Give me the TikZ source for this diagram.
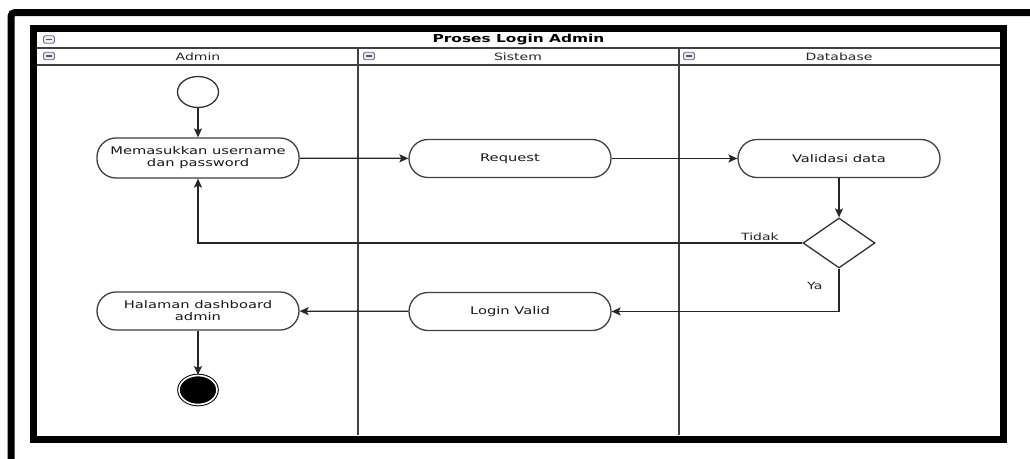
\documentclass[tikz,border=0pt]{standalone}
\usepackage{fontspec}
\newfontfamily\umlfont[FakeStretch=1.4]{DejaVu Sans}
\usetikzlibrary{shapes.geometric, arrows.meta, positioning, calc}

\begin{document}
\begin{tikzpicture}[
  x=1pt, y=-1pt,
  >=Stealth,
  % Thick black frames
  frame/.style={line width=7pt, draw=black},
  % Header separators and lane dividers
  sep/.style={line width=1.2pt, draw=black!75},
  lanediv/.style={line width=2pt, draw=black!75},
  % Flow Edge
  arr/.style={-{Stealth[length=9pt, width=8pt, inset=2pt]}, line width=1.3pt, draw=black!85},
  % Guard Label
  lbl/.style={font=\umlfont\fontsize{10}{12}\selectfont, text=black!85, inner sep=1pt},
  % Header texts
  title/.style={font=\umlfont\bfseries\fontsize{11}{13}\selectfont, inner sep=1pt},
  lanehead/.style={font=\umlfont\fontsize{10}{12}\selectfont, text=black!85, inner sep=1pt},
  % Collapse icon in the header rows
  minus/.style={rectangle, rounded corners=1.5pt, draw=gray!80!blue, line width=0.8pt, fill=gray!15,
    minimum width=11pt, minimum height=7.5pt, inner sep=0pt,
    path picture={\draw[gray!70!black, line width=1.5pt]
      ([xshift=-3pt]path picture bounding box.center) --
      ([xshift=3pt]path picture bounding box.center);}},
  % Activity Nodes
  act/.style={rectangle, rounded corners=19pt, draw=black!75, line width=1.3pt, fill=white,
    minimum width=202pt, minimum height=38pt, align=center, inner sep=2pt,
    font=\umlfont\fontsize{10.5}{12}\selectfont, text=black!90},
  initnode/.style={ellipse, draw=black!80, line width=1.3pt, fill=white,
    minimum width=41pt, minimum height=31pt, inner sep=0pt},
  finalnode/.style={ellipse, draw=black, fill=black, line width=1pt, double=white,
    double distance=1.6pt, minimum width=38pt, minimum height=29pt, inner sep=0pt},
  decision/.style={diamond, draw=black!80, line width=1.3pt, fill=white,
    minimum width=72pt, minimum height=50pt, inner sep=0pt}
]

\fill[white] (0,0) rectangle (1030,458);
\useasboundingbox (0,0) rectangle (1030,458);

%% Outer and inner frames
\draw[frame, rounded corners=4pt] (11,470) -- (11,12.5) -- (1045,12.5);
\draw[frame] (33.5,28.5) rectangle (1003.5,439);

%% Pool header and lanes
\draw[sep] (37,48) -- (1000,48);
\draw[sep] (37,65) -- (1000,65);
\draw[lanediv] (358,48) -- (358,435);
\draw[lanediv] (679,48) -- (679,435);

\node[minus] (m0) at (49,39.5) {};
\node[minus] (m1) at (49,56) {};
\node[minus] (m2) at (369,56) {};
\node[minus] (m3) at (689,56) {};

\node[title] (title) at (518.5,40) {Proses Login Admin};
\node[lanehead] (hadmin) at (198,57) {Admin};
\node[lanehead] (hsistem) at (518,57) {Sistem};
\node[lanehead] (hdb) at (839,57) {Database};

%% Activities
\node[initnode] (begin) at (198,92) {};
\node[act, minimum height=40pt] (input) at (198,158) {Memasukkan username\\dan password};
\node[act] (request) at (510,158.5) {Request};
\node[act] (validasi) at (839,158.5) {Validasi data};
\node[decision] (cek) at (839,243) {};
\node[act] (valid) at (510,311.5) {Login Valid};
\node[act] (dashboard) at (198,311) {Halaman dashboard\\admin};
\node[finalnode] (finish) at (198,390) {};

%% Edges
\draw[arr] (begin) -- (input);
\draw[arr] (input) -- (request);
\draw[arr] (request) -- (validasi);
\draw[arr] (validasi) -- (cek);

% Rejected login goes back to the input form
\draw[arr] (cek.west) -| node[lbl, pos=0, anchor=south east, xshift=-22pt, yshift=1pt] {Tidak} (input.south);

% Accepted login
\draw[arr] (cek.south) |- node[lbl, pos=0.2, anchor=east, xshift=-15pt] {Ya} (valid.east);

\draw[arr] (valid) -- (dashboard);
\draw[arr] (dashboard) -- (finish);

\end{tikzpicture}
\end{document}
